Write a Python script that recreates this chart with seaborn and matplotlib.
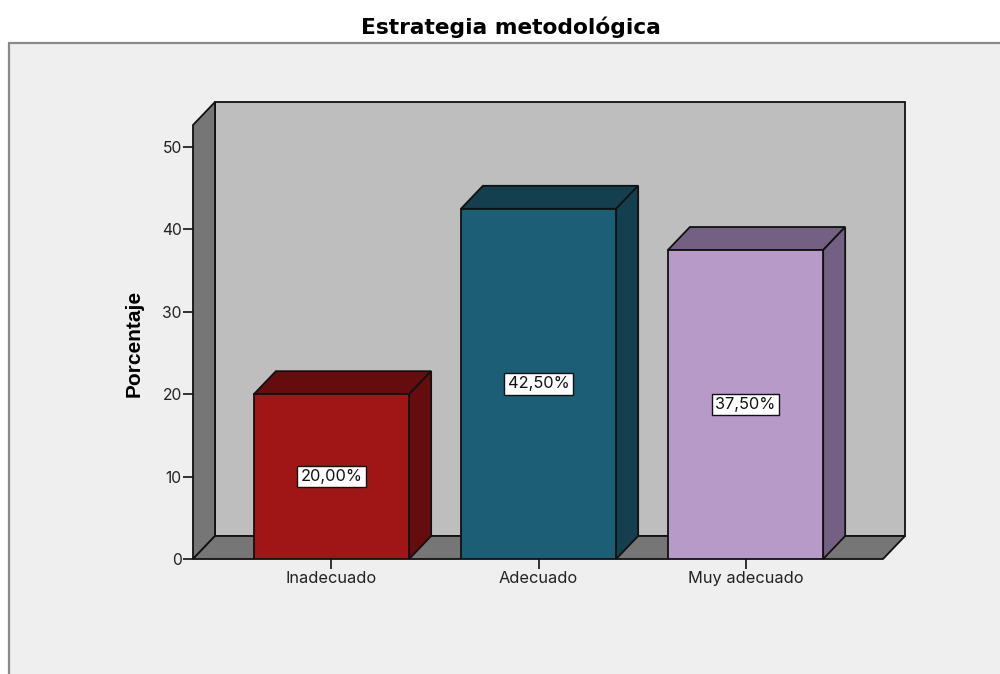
import matplotlib
matplotlib.use("Agg")
import matplotlib.pyplot as plt
from matplotlib.patches import Polygon, Rectangle
import pandas as pd
import seaborn as sns

# Survey results
categories = ["Inadecuado", "Adecuado", "Muy adecuado"]
percentages = [20.0, 42.5, 37.5]
value_labels = ["20,00%", "42,50%", "37,50%"]
front_colors = ["#a01617", "#1c5e76", "#b79ac8"]
shade_colors = ["#650d0e", "#133f4f", "#746083"]
y_ticks = [0, 10, 20, 30, 40, 50]

sns.set_theme(style="white")
plt.rcParams["font.family"] = ["Inter", "DejaVu Sans"]

W, H = 1000, 674
fig = plt.figure(figsize=(W / 100, H / 100), dpi=100, facecolor="white")

# Chart panel, running off the right and bottom edges
fig.add_artist(Rectangle((9 / W, -0.02), 1.02, 1 - 43 / H + 0.02,
                         transform=fig.transFigure, facecolor="#efefef",
                         edgecolor="#8a8a8a", linewidth=1.6, zorder=-5))

left, right, top, bottom = 193, 883, 125, 559
ax = fig.add_axes([left / W, 1 - bottom / H, (right - left) / W, (bottom - top) / H])
ax.patch.set_visible(False)

df = pd.DataFrame({"categoria": categories, "porcentaje": percentages})
sns.barplot(data=df, x="categoria", y="porcentaje", hue="categoria",
            palette=front_colors, width=0.75, edgecolor="#111111",
            linewidth=1.3, legend=False, ax=ax, zorder=5, saturation=1)

ax.set_xlim(-0.669, 2.664)
ax.set_ylim(0, (bottom - top) / 8.24)

# Oblique depth of the box, in data units
dx = 22 / 207
dy = 23 / 8.24
x0, x1 = ax.get_xlim()
y1 = ax.get_ylim()[1]


def face(points, color, z):
    ax.add_patch(Polygon(points, closed=True, facecolor=color, edgecolor="#111111",
                         linewidth=1.3, joinstyle="miter", clip_on=False, zorder=z))


# Back wall, side wall and floor
face([(x0 + dx, dy), (x1 + dx, dy), (x1 + dx, y1 + dy), (x0 + dx, y1 + dy)], "#bebebe", 1)
face([(x0, 0), (x0 + dx, dy), (x0 + dx, y1 + dy), (x0, y1)], "#767676", 2)
face([(x0, 0), (x1, 0), (x1 + dx, dy), (x0 + dx, dy)], "#767676", 2)

# Top and side faces of each bar, plus its value label
for bar, shade, label in zip(ax.patches[:len(categories)], shade_colors, value_labels):
    a, b = bar.get_x(), bar.get_x() + bar.get_width()
    h = bar.get_height()
    face([(a, h), (b, h), (b + dx, h + dy), (a + dx, h + dy)], shade, 4)
    face([(b, 0), (b + dx, dy), (b + dx, h + dy), (b, h)], shade, 4)
    ax.text((a + b) / 2, h / 2, label, ha="center", va="center", fontsize=11.8,
            color="#111111", zorder=7,
            bbox=dict(boxstyle="square,pad=0.2", facecolor="white",
                      edgecolor="#111111", linewidth=1))

sns.despine(ax=ax, left=True, bottom=True, top=True, right=True)
ax.set_yticks(y_ticks)
ax.tick_params(axis="y", left=True, length=7.5, width=1.2, color="#111111",
               labelsize=11.3, labelcolor="#222222", pad=0.5)
ax.tick_params(axis="x", bottom=True, length=7.5, width=1.2, color="#111111",
               labelsize=11.8, labelcolor="#222222", pad=1)
ax.set_xlabel("")
ax.set_ylabel("Porcentaje", fontsize=15, fontweight="bold", color="black",
              family="Liberation Sans", labelpad=0)
ax.yaxis.set_label_coords((144 - left) / (right - left), (bottom - 343) / (bottom - top))

fig.text(511 / W, 1 - 27 / H, "Estrategia metodológica", ha="center", va="center",
         fontsize=15.7, fontweight="bold", color="black", family="DejaVu Sans")

fig.savefig("out.png", dpi=100)
